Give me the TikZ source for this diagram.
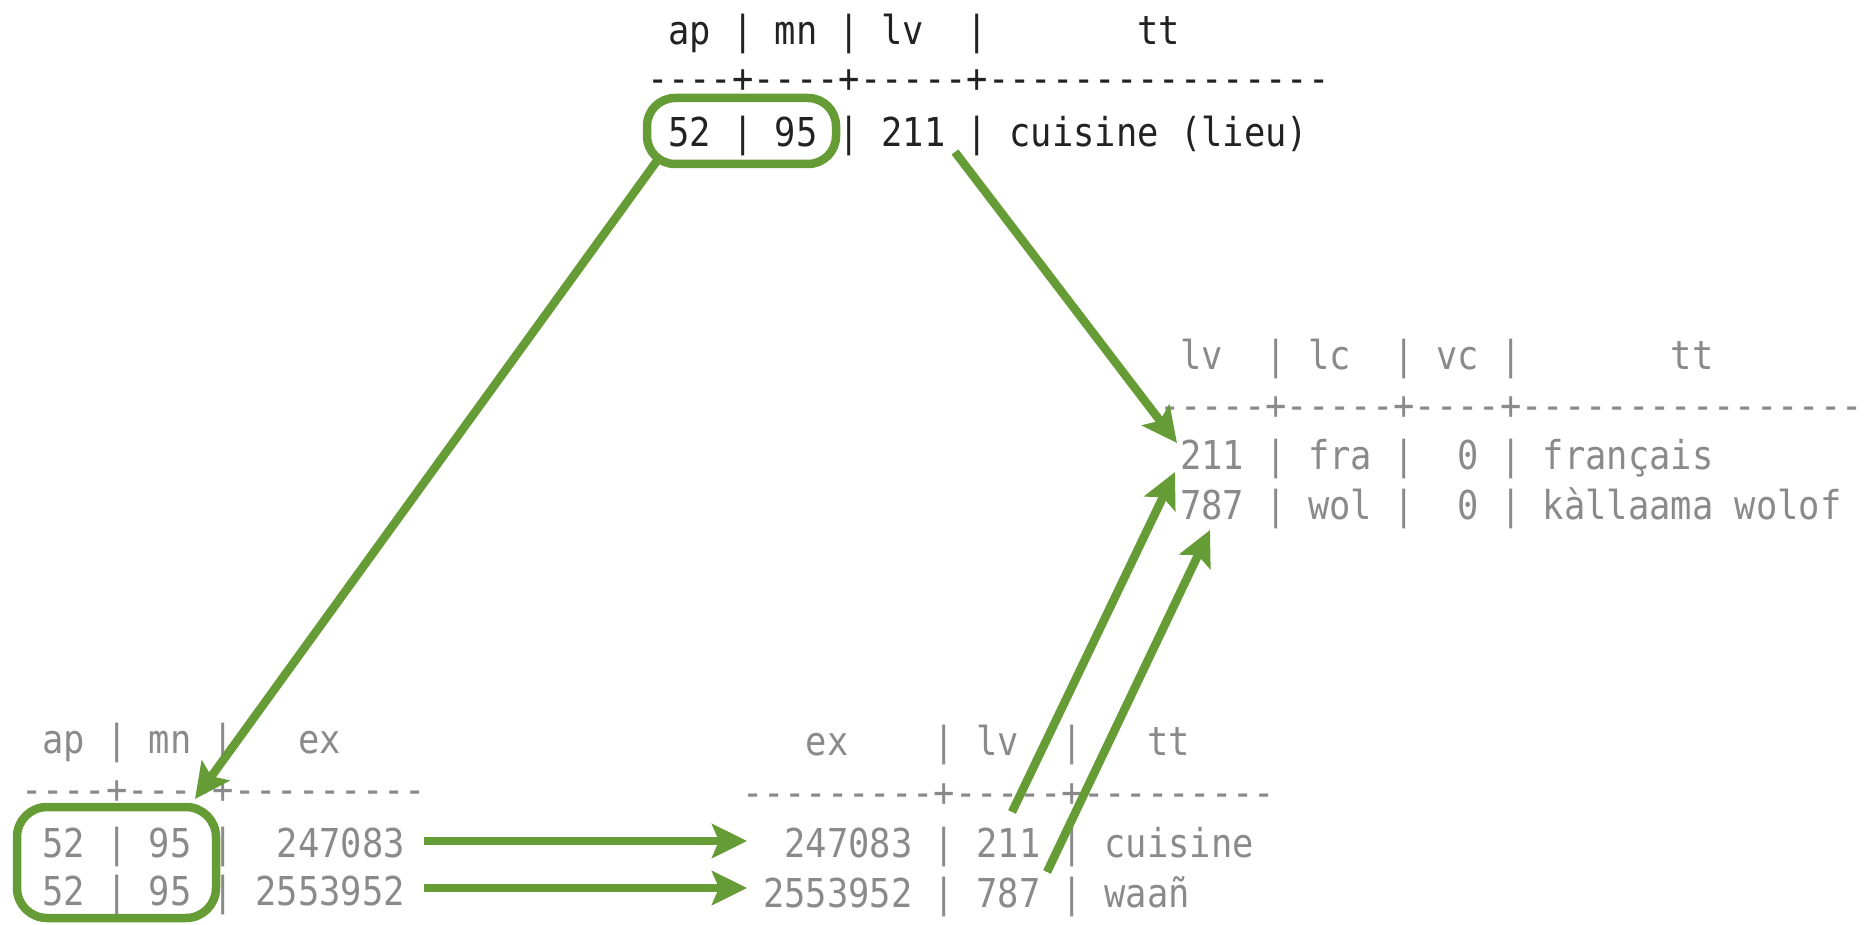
\documentclass[tikz,border=0pt]{standalone}
\usepackage{fontspec}
\setmonofont[FakeStretch=0.89,WordSpace={1,0,0}]{DejaVu Sans Mono}
\usetikzlibrary{arrows.meta}
\definecolor{grn}{HTML}{669C35}
\definecolor{txtblack}{HTML}{222222}
\definecolor{txtgray}{HTML}{8A8A8A}
\begin{document}
\begin{tikzpicture}[x=1pt,y=-1pt,
  tline/.style={anchor=base west, inner sep=0pt, outer sep=0pt,
    font=\ttfamily\fontsize{39.8}{48}\selectfont},
  blk/.style={tline, text=txtblack},
  gry/.style={tline, text=txtgray},
  hlbox/.style={draw=grn, line width=8.5pt, rounded corners=28pt, inner sep=0pt},
  link/.style={draw=grn, line width=8.5pt, -{Stealth[length=35pt,width=34pt,inset=7pt]}}]
\useasboundingbox (0,0) rectangle (1868,925);
% top table
\node[blk] (th) at (647,45) {~ap~|~mn~|~lv~~|~~~~~~~tt};
\node[blk] (ts) at (647,93) {----+----+-----+----------------};
\node[blk] (tr) at (647,147) {~52~|~95~|~211~|~cuisine~(lieu)};
% right table
\node[gry] (rh) at (1159,369) {~lv~~|~lc~~|~vc~|~~~~~~~tt};
\node[gry] (rs) at (1159,419) {-----+-----+----+----------------};
\node[gry] (r1) at (1159,469) {~211~|~fra~|~~0~|~français};
\node[gry] (r2) at (1159,519) {~787~|~wol~|~~0~|~kàllaama~wolof};
% bottom-left table
\node[gry] (lh) at (21,753) {~ap~|~mn~|~~~ex};
\node[gry] (ls) at (21,803) {----+----+---------};
\node[gry] (l1) at (21,857) {~52~|~95~|~~247083};
\node[gry] (l2) at (21,905) {~52~|~95~|~2553952};
% bottom-middle table
\node[gry] (mh) at (742,755) {~~~ex~~~~|~lv~~|~~~tt};
\node[gry] (ms) at (742,806) {---------+-----+---------};
\node[gry] (m1) at (742,857) {~~247083~|~211~|~cuisine};
\node[gry] (m2) at (742,907) {~2553952~|~787~|~waañ};
% highlight boxes
\node[hlbox, minimum width=189pt, minimum height=66pt] (topbox) at (741.5,131) {};
\node[hlbox, minimum width=199pt, minimum height=111pt, rounded corners=30pt] (blbox) at (116.5,862.5) {};
% connector end points
\coordinate (a1s) at (659,158);
\coordinate (a1e) at (195,799);
\coordinate (a2s) at (955,152);
\coordinate (a2e) at (1177,443);
\coordinate (a3s) at (1012,812);
\coordinate (a3e) at (1175,472);
\coordinate (a4s) at (1047,872);
\coordinate (a4e) at (1210,530);
\coordinate (a5s) at (424,841);
\coordinate (a5e) at (747,841);
\coordinate (a6s) at (424,888);
\coordinate (a6e) at (747,888);
\draw[link] (a1s) -- (a1e);
\draw[link] (a2s) -- (a2e);
\draw[link] (a3s) -- (a3e);
\draw[link] (a4s) -- (a4e);
\draw[link] (a5s) -- (a5e);
\draw[link] (a6s) -- (a6e);
\end{tikzpicture}
\end{document}
